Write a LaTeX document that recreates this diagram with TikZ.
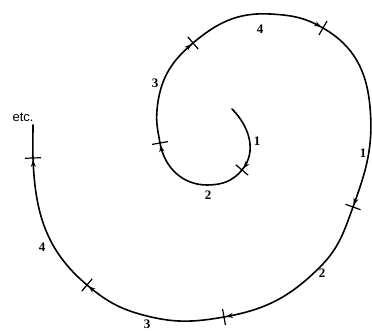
\documentclass[tikz,border=0pt]{standalone}
\usepackage{fontspec}
\setmainfont{Liberation Serif}
\newfontfamily\etcfont{Liberation Sans}
\usetikzlibrary{decorations.markings,arrows.meta}
\newcommand\tickat[2]{\draw[tickmark] (#1) ++({#2+90}:8pt) -- ++({#2-90}:16pt);}
\begin{document}
\begin{tikzpicture}[x=1pt,y=1pt,
  spiral/.style={line width=1.6pt, line cap=round},
  arrowed/.style={spiral, postaction={decorate}, decoration={markings, mark=at position -2pt with {\arrow{Stealth[length=7pt,width=5pt]}}}},
  tickmark/.style={line width=1.2pt},
  lbl/.style={font=\fontsize{13}{13}\selectfont\bfseries, inner sep=0pt}]
\useasboundingbox (0,0) rectangle (372,331);
% points (y up)
\coordinate (S0) at (232,222);
\coordinate (T1) at (242,161);
\coordinate (B) at (207,146);
\coordinate (T2) at (160,188);
\coordinate (C) at (157,221);
\coordinate (T3) at (193,288);
\coordinate (E) at (270,317);
\coordinate (T4) at (323,303);
\coordinate (F) at (370,224);
\coordinate (T5) at (353,124);
\coordinate (G) at (320,64);
\coordinate (T6) at (224,14);
\coordinate (J) at (143,16);
\coordinate (T7) at (87,46);
\coordinate (T8) at (33,173);
\coordinate (End) at (33,206);
% spiral
\draw[arrowed] (S0) to[out=-45,in=50] (T1);
\draw[arrowed] (T1) to[out=-130,in=0] (B) to[out=180,in=-80] (T2);
\draw[arrowed] (T2) to[out=100,in=-95] (C) to[out=85,in=-140] (T3);
\draw[arrowed] (T3) to[out=40,in=177] (E) to[out=-3,in=150] (T4);
\draw[arrowed] (T4) to[out=-30,in=95] (F) to[out=-85,in=70] (T5);
\draw[arrowed] (T5) to[out=-110,in=45] (G) to[out=-135,in=10] (T6);
\draw[arrowed] (T6) to[out=-170,in=-15] (J) to[out=165,in=-40] (T7);
\draw[arrowed] (T7) to[out=140,in=-88] (T8);
\draw[spiral] (T8) to[out=92,in=-90] (End);
% ticks
\tickat{T1}{-130}
\tickat{T2}{100}
\tickat{T3}{40}
\tickat{T4}{-30}
\tickat{T5}{-110}
\tickat{T6}{-170}
\tickat{T7}{140}
\tickat{T8}{92}
% labels
\node[lbl] (li1) at (257,190) {1};
\node[lbl] (li2) at (208,136) {2};
\node[lbl] (lo3) at (155,248) {3};
\node[lbl] (lo4) at (260,302) {4};
\node[lbl] (lo1) at (363,178) {1};
\node[lbl] (lo2) at (322,58) {2};
\node[lbl] (lo3b) at (147,7) {3};
\node[lbl] (lo4b) at (42,84) {4};
\node[inner sep=0pt, font=\etcfont\fontsize{13}{13}\selectfont] (etc) at (23,214) {etc.};
\end{tikzpicture}
\end{document}
